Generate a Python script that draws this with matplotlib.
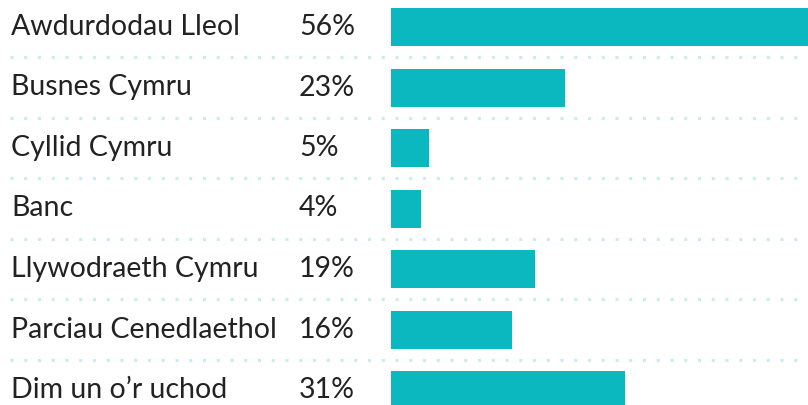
import numpy as np
import matplotlib
matplotlib.use('Agg')
from matplotlib import pyplot as plt
from matplotlib import transforms

labels = ["Awdurdodau Lleol", "Busnes Cymru", "Cyllid Cymru", "Banc",
          "Llywodraeth Cymru", "Parciau Cenedlaethol", "Dim un o\u2019r uchod"]
values = [56, 23, 5, 4, 19, 16, 31]
pct_labels = [f"{v}%" for v in values]

bar_color = "#0bb8bf"
dot_color = "#c9ecee"
text_color = "#222222"

plt.rcParams['font.family'] = ['Lato', 'DejaVu Sans']

W, H = 808, 405
fig = plt.figure(figsize=(W / 100, H / 100), dpi=100)
ax = fig.add_axes([0, 0, 1, 1])

# x: 0 at pixel 391, ~7.56 px per percent (longest bar runs off the edge)
px_per = 7.56
ax.set_xlim(-391 / px_per, (W - 391) / px_per)
# rows: pitch 60.5 px, first centre at 27 px
pitch = 60.5
ax.set_ylim((H - 27) / pitch, -27 / pitch)
ax.axis('off')

y = np.arange(len(labels))
ax.barh(y, values, height=38 / pitch, left=0, color=bar_color, zorder=2)

# dotted separators
for i in range(len(labels) - 1):
    ax.axhline(i + 0.5, xmin=10 / W, xmax=800 / W, color=dot_color, lw=2.2,
               linestyle=(0, (1, 3.5)), dash_capstyle='butt', zorder=1)

trans = transforms.blended_transform_factory(fig.transFigure, ax.transData)
for i, (lab, pct) in enumerate(zip(labels, pct_labels)):
    ax.text(11 / W, i + 8 / pitch, lab, transform=trans, fontsize=20.5,
            color=text_color, va='baseline', ha='left')
    ax.text(299 / W, i + 8 / pitch, pct, transform=trans, fontsize=20.5,
            color=text_color, va='baseline', ha='left')

plt.savefig("out.png", dpi=100)
